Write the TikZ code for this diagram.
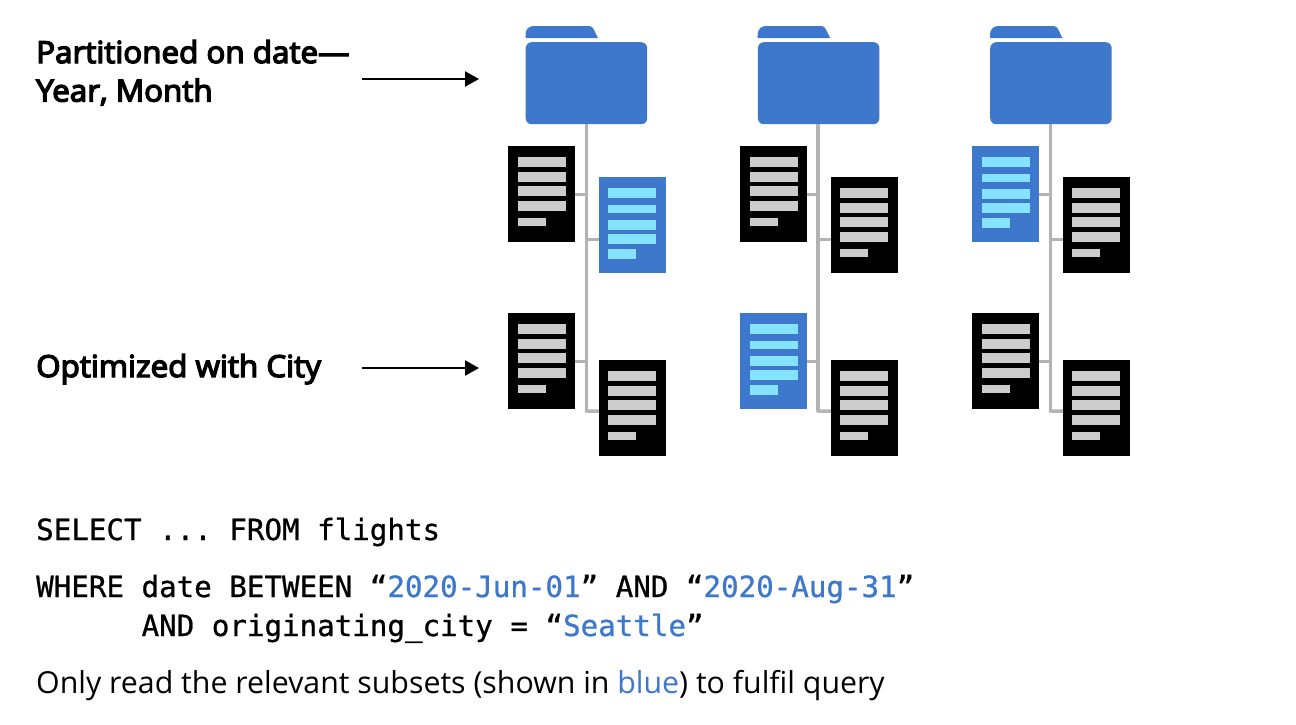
\documentclass[tikz,border=0pt]{standalone}
\usepackage{fontspec}
\setmainfont{Open Sans}
\newfontfamily\semib[FakeBold=4.5,FakeStretch=1.035]{Open Sans}
\newfontfamily\monof[FakeBold=0.8]{DejaVu Sans Mono}
\usetikzlibrary{arrows.meta}
\definecolor{qblue}{HTML}{3E78CC}
\definecolor{qlight}{HTML}{86E3FF}
\definecolor{qgrey}{HTML}{CCCCCC}
\definecolor{qline}{HTML}{B3B3B3}
\tikzset{
  x=1pt,y=-1pt,
  folderbody/.style={fill=qblue,draw=none,rounded corners=6pt,minimum width=121.5pt,minimum height=82pt,inner sep=0pt,anchor=north west},
  docbox/.style={minimum width=67pt,minimum height=96pt,inner sep=0pt,anchor=north west,draw=none},
  blackdoc/.style={docbox,fill=black},
  bluedoc/.style={docbox,fill=qblue},
  branch/.style={draw=qline,line width=3.4pt},
  pointer/.style={draw=black,line width=2.4pt,-{Triangle[length=14pt,width=15pt]}},
  headtext/.style={anchor=base west,inner sep=0pt,font=\semib\fontsize{30.3pt}{36pt}\selectfont},
  bodytext/.style={anchor=base west,inner sep=0pt,font=\fontsize{30.3pt}{36pt}\selectfont},
  codetext/.style={anchor=base west,inner sep=0pt,font=\frenchspacing\monof\fontsize{29.17pt}{35pt}\selectfont},
}
% bars of a selected document: name, left offset
\newcommand{\lightbars}[2]{%
  \foreach \ytop/\xlen/\hgt in {11/47.5/10,28/47.5/8,43/47.5/10,57/47.5/10,72/28/10}{
    \fill[qlight] ([xshift=#2pt,yshift=-\ytop pt]#1.north west) rectangle ++(\xlen,\hgt);
  }}
% bars of a plain document: name, left offset
\newcommand{\greybars}[2]{%
  \foreach \ytop/\xlen/\hgt in {11/48/10,26/48/10,40/48/10,55/48/10,72/28/8}{
    \fill[qgrey] ([xshift=#2pt,yshift=-\ytop pt]#1.north west) rectangle ++(\xlen,\hgt);
  }}
% one column: suffix, folder x, trunk x, left doc x, right doc x, four styles
\newcommand{\qcolumn}[9]{%
  \node[folderbody] (f#1) at (#2,42) {};
  \fill[qblue] (#2,38) -- (#2,34) arc[start angle=180,end angle=270,radius=8] -- ++(56,0)
     .. controls ++(4,0) and ++(-3,-5) .. ++(8.5,12) -- cycle;
  \coordinate (t#1) at (#3,411);
  \node[#6] (a#1) at (#4,146) {};
  \node[#7,minimum width=66.5pt] (b#1) at (#5,177) {};
  \node[#8] (c#1) at (#4,313) {};
  \node[#9,minimum width=66.5pt] (d#1) at (#5,360) {};
  \draw[branch] (f#1.south -| t#1) -- (t#1);
  \draw[branch] (a#1.east) -- (a#1.east -| t#1);
  \draw[branch] ([yshift=-14pt]b#1.west) -- ([yshift=-14pt]b#1.west -| t#1);
  \draw[branch] (c#1.east) -- (c#1.east -| t#1);
  \draw[branch] ([xshift=-1.7pt]t#1) -- ([yshift=-3pt]d#1.west);
}
\begin{document}
\begin{tikzpicture}
\useasboundingbox (0,0) rectangle (1296,724);
\fill[white] (0,0) rectangle (1296,724);
\qcolumn{1}{525.5}{586.5}{508}{598.8}{blackdoc}{bluedoc}{blackdoc}{blackdoc}
\qcolumn{2}{757.7}{818}{740}{830.8}{blackdoc}{blackdoc}{bluedoc}{blackdoc}
\qcolumn{3}{990}{1050.5}{972}{1063.2}{bluedoc}{blackdoc}{blackdoc}{blackdoc}
\greybars{a1}{10}\lightbars{b1}{9.2}\greybars{c1}{10}\greybars{d1}{9}
\greybars{a2}{10}\greybars{b2}{9}\lightbars{c2}{10}\greybars{d2}{9}
\lightbars{a3}{10}\greybars{b3}{9}\greybars{c3}{10}\greybars{d3}{9}

\node[headtext] (h1) at (36,63) {Partitioned on date—};
\node[headtext] (h2) at (36,101.5) {Year, Month};
\node[headtext] (h3) at (36,377) {Optimized with City};
\coordinate (p1s) at (361.5,79);
\coordinate (p1e) at (479,79);
\coordinate (p2s) at (361.5,368);
\coordinate (p2e) at (479,368);
\draw[pointer] (p1s) -- (p1e);
\draw[pointer] (p2s) -- (p2e);

\node[codetext] (q1) at (36,540) {SELECT ... FROM flights};
\node[codetext] (q2) at (36,597) {WHERE date BETWEEN “\textcolor{qblue}{2020-Jun-01}” AND “\textcolor{qblue}{2020-Aug-31}”};
\node[codetext] (q3) at (141.4,636) {AND originating\string_city = “\textcolor{qblue}{Seattle}”};
\node[bodytext] (n1) at (36,693) {Only read the relevant subsets (shown in \textcolor{qblue}{blue}) to fulfil query};
\end{tikzpicture}
\end{document}
